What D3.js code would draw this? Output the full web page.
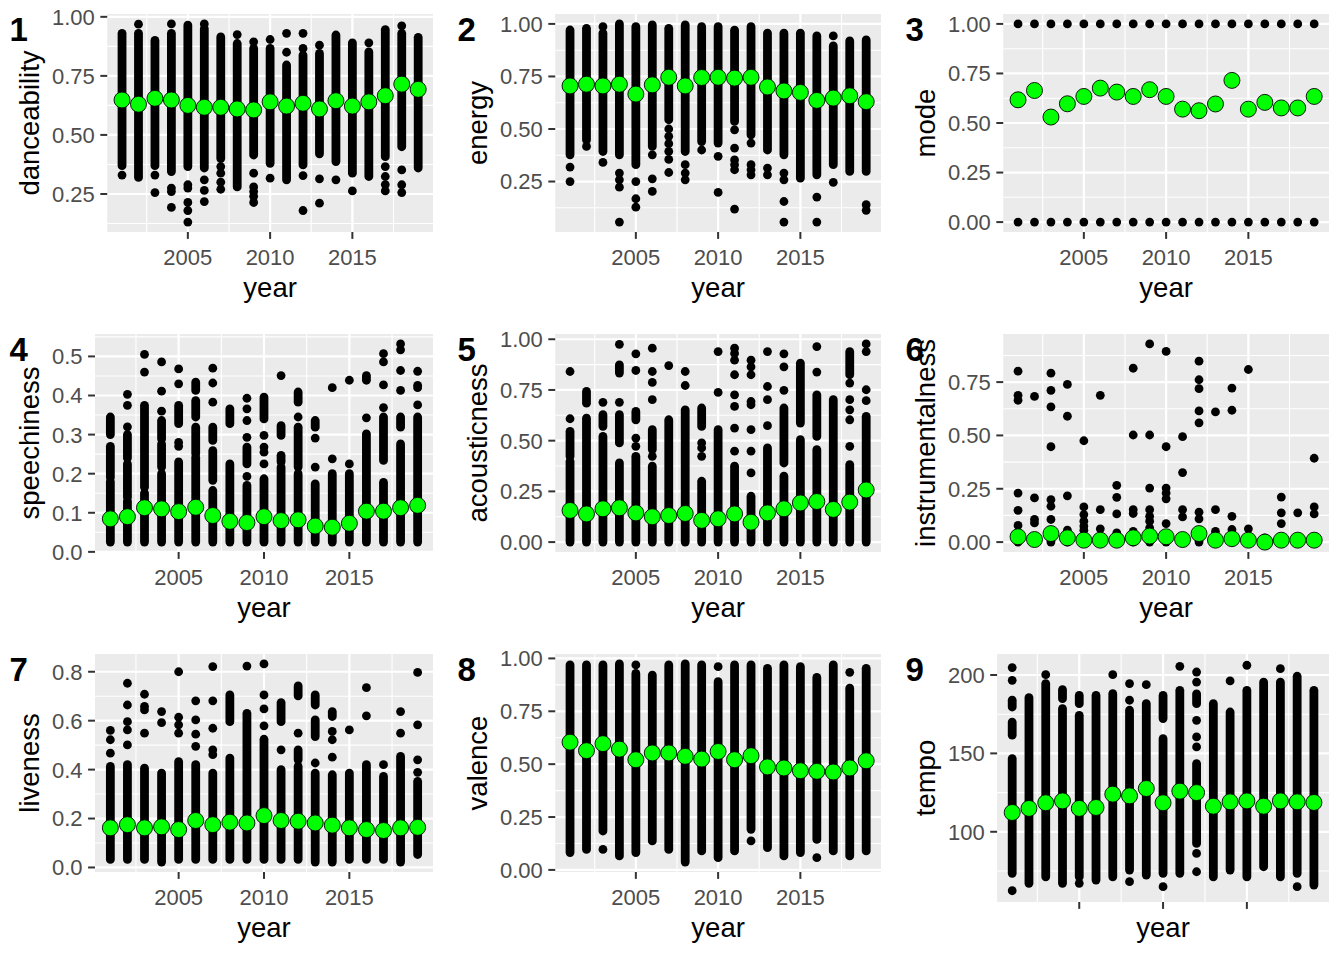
<!DOCTYPE html>
<html>
<head>
<meta charset="utf-8">
<script src="https://cdn.jsdelivr.net/npm/d3@7"></script>
<style>
  body { margin: 0; background: #fff; }
  text { font-family: "Liberation Sans", Arial, sans-serif; }
</style>
</head>
<body>
<script>
// Años (eje x)
const years = [2001, 2002, 2003, 2004, 2005, 2006, 2007, 2008, 2009, 2010,
               2011, 2012, 2013, 2014, 2015, 2016, 2017, 2018, 2019];
const yearBreaks = [2005, 2010, 2015];

// ---- 1 danceability ----
const danceMean = [0.648, 0.63, 0.655, 0.648, 0.625, 0.617, 0.617, 0.61, 0.606, 0.64,
                   0.622, 0.634, 0.61, 0.645, 0.622, 0.64, 0.666, 0.715, 0.693];
// tramos densos: [año, mínimo, máximo]
const danceRuns = [[2001, 0.37, 0.93], [2002, 0.32, 0.93], [2003, 0.37, 0.90], [2004, 0.345, 0.93],
  [2005, 0.366, 0.965], [2006, 0.36, 0.95], [2007, 0.40, 0.915], [2008, 0.28, 0.887],
  [2009, 0.415, 0.866], [2010, 0.38, 0.866], [2011, 0.31, 0.796], [2012, 0.373, 0.838],
  [2013, 0.42, 0.845], [2014, 0.387, 0.923], [2015, 0.338, 0.89], [2016, 0.324, 0.852],
  [2017, 0.408, 0.946], [2018, 0.45, 0.93], [2019, 0.36, 0.913]];
// puntos sueltos: [año, valor]
const dancePts = [[2001, 0.33], [2002, 0.969], [2003, 0.33], [2003, 0.256], [2004, 0.97], [2004, 0.275],
  [2004, 0.26], [2004, 0.193], [2005, 0.289], [2005, 0.275], [2005, 0.214], [2005, 0.18], [2005, 0.131],
  [2006, 0.97], [2006, 0.31], [2006, 0.265], [2006, 0.218], [2007, 0.366], [2007, 0.338], [2007, 0.30],
  [2007, 0.27], [2008, 0.925], [2009, 0.894], [2009, 0.338], [2009, 0.28], [2009, 0.26], [2009, 0.24],
  [2009, 0.214], [2010, 0.904], [2010, 0.317], [2011, 0.93], [2011, 0.85], [2012, 0.93], [2012, 0.866],
  [2012, 0.328], [2012, 0.18], [2013, 0.88], [2013, 0.314], [2013, 0.211], [2014, 0.31], [2015, 0.263],
  [2016, 0.89], [2017, 0.366], [2017, 0.324], [2017, 0.29], [2017, 0.263], [2018, 0.962], [2018, 0.352],
  [2018, 0.289], [2018, 0.256]];

// ---- 2 energy ----
const energyMean = [0.705, 0.713, 0.705, 0.713, 0.666, 0.71, 0.746, 0.705, 0.745, 0.746,
                    0.742, 0.746, 0.70, 0.681, 0.674, 0.636, 0.647, 0.658, 0.63];
const energyRuns = [[2001, 0.377, 0.971], [2002, 0.448, 0.979], [2003, 0.393, 0.956], [2004, 0.377, 1.0],
  [2005, 0.33, 0.987], [2006, 0.417, 0.995], [2007, 0.544, 0.979], [2008, 0.393, 0.995],
  [2009, 0.44, 0.987], [2010, 0.433, 0.987], [2011, 0.536, 0.97], [2012, 0.472, 0.987],
  [2013, 0.40, 0.956], [2014, 0.377, 0.956], [2015, 0.266, 0.956], [2016, 0.282, 0.943],
  [2017, 0.33, 0.895], [2018, 0.298, 0.919], [2019, 0.298, 0.924]];
const energyPts = [[2001, 0.319], [2001, 0.25], [2002, 0.417], [2003, 0.987], [2003, 0.341], [2004, 0.29],
  [2004, 0.258], [2004, 0.223], [2004, 0.057], [2005, 0.25], [2005, 0.168], [2005, 0.128], [2006, 0.377],
  [2006, 0.263], [2006, 0.203], [2007, 0.50], [2007, 0.465], [2007, 0.43], [2007, 0.393], [2007, 0.355],
  [2007, 0.293], [2008, 0.33], [2008, 0.29], [2008, 0.258], [2009, 0.40], [2010, 0.37], [2010, 0.198],
  [2011, 0.496], [2011, 0.409], [2011, 0.353], [2011, 0.33], [2011, 0.306], [2011, 0.119], [2012, 0.433],
  [2012, 0.33], [2012, 0.306], [2012, 0.282], [2013, 0.314], [2013, 0.282], [2014, 0.29], [2014, 0.258],
  [2014, 0.155], [2014, 0.057], [2016, 0.176], [2016, 0.057], [2017, 0.943], [2017, 0.246], [2019, 0.14],
  [2019, 0.113]];

// ---- 3 mode ----
const modeMean = [0.617, 0.664, 0.530, 0.597, 0.634, 0.676, 0.656, 0.634, 0.668, 0.634,
                  0.570, 0.562, 0.596, 0.715, 0.570, 0.604, 0.576, 0.576, 0.634];
const modeRuns = [];
const modePts = [[2001, 0], [2001, 1], [2002, 0], [2002, 1], [2003, 0], [2003, 1], [2004, 0], [2004, 1],
  [2005, 0], [2005, 1], [2006, 0], [2006, 1], [2007, 0], [2007, 1], [2008, 0], [2008, 1], [2009, 0],
  [2009, 1], [2010, 0], [2010, 1], [2011, 0], [2011, 1], [2012, 0], [2012, 1], [2013, 0], [2013, 1],
  [2014, 0], [2014, 1], [2015, 0], [2015, 1], [2016, 0], [2016, 1], [2017, 0], [2017, 1], [2018, 0],
  [2018, 1], [2019, 0], [2019, 1]];

// ---- 4 speechiness ----
const speechMean = [0.0845, 0.09, 0.113, 0.11, 0.103, 0.114, 0.093, 0.078, 0.075, 0.09,
                    0.08, 0.082, 0.066, 0.063, 0.073, 0.104, 0.104, 0.113, 0.119];
const speechRuns = [[2001, 0.025, 0.18], [2001, 0.19, 0.27], [2001, 0.30, 0.345],
  [2002, 0.025, 0.13], [2002, 0.14, 0.225], [2002, 0.24, 0.30],
  [2003, 0.025, 0.15], [2003, 0.165, 0.375],
  [2004, 0.025, 0.20], [2004, 0.217, 0.276], [2004, 0.289, 0.336],
  [2005, 0.025, 0.23], [2005, 0.328, 0.375],
  [2006, 0.025, 0.242], [2006, 0.251, 0.319], [2006, 0.345, 0.387], [2006, 0.413, 0.434],
  [2007, 0.025, 0.157], [2007, 0.183, 0.259], [2007, 0.285, 0.319],
  [2008, 0.025, 0.225], [2008, 0.328, 0.366],
  [2009, 0.025, 0.17], [2009, 0.225, 0.268],
  [2010, 0.025, 0.187], [2010, 0.34, 0.396],
  [2011, 0.025, 0.217], [2011, 0.23, 0.247], [2011, 0.298, 0.323],
  [2012, 0.025, 0.2], [2012, 0.217, 0.319], [2012, 0.383, 0.409],
  [2013, 0.025, 0.174], [2013, 0.319, 0.336],
  [2014, 0.025, 0.2], [2015, 0.025, 0.2],
  [2016, 0.025, 0.302], [2016, 0.439, 0.451],
  [2017, 0.025, 0.178], [2017, 0.234, 0.345],
  [2018, 0.025, 0.276], [2018, 0.319, 0.345],
  [2019, 0.025, 0.345]];
const speechPts = [[2002, 0.32], [2002, 0.375], [2002, 0.403], [2003, 0.505], [2003, 0.46], [2004, 0.486],
  [2004, 0.411], [2004, 0.36], [2005, 0.468], [2005, 0.43], [2005, 0.28], [2005, 0.27], [2007, 0.47],
  [2007, 0.432], [2007, 0.383], [2009, 0.393], [2009, 0.366], [2009, 0.336], [2009, 0.293], [2009, 0.193],
  [2010, 0.298], [2010, 0.268], [2010, 0.255], [2010, 0.225], [2011, 0.451], [2012, 0.345], [2013, 0.291],
  [2013, 0.217], [2014, 0.42], [2014, 0.238], [2015, 0.439], [2015, 0.225], [2016, 0.343], [2017, 0.507],
  [2017, 0.486], [2017, 0.427], [2017, 0.369], [2018, 0.532], [2018, 0.517], [2018, 0.464], [2018, 0.413],
  [2019, 0.462], [2019, 0.426], [2019, 0.42], [2019, 0.376]];

// ---- 5 acousticness ----
const acousMean = [0.156, 0.139, 0.164, 0.169, 0.144, 0.125, 0.131, 0.141, 0.107, 0.115,
                   0.139, 0.098, 0.144, 0.164, 0.193, 0.2, 0.161, 0.197, 0.257];
const acousRuns = [[2001, 0, 0.398], [2001, 0.423, 0.546], [2002, 0, 0.611], [2002, 0.685, 0.743],
  [2003, 0, 0.521], [2003, 0.57, 0.628], [2004, 0, 0.39], [2004, 0.489, 0.628], [2004, 0.833, 0.874],
  [2005, 0, 0.423], [2005, 0.603, 0.644], [2006, 0, 0.374], [2006, 0.456, 0.554], [2007, 0, 0.603],
  [2008, 0, 0.652], [2009, 0, 0.30], [2009, 0.57, 0.661], [2010, 0, 0.554], [2011, 0, 0.374],
  [2012, 0, 0.226], [2013, 0, 0.464], [2014, 0, 0.325], [2014, 0.39, 0.661], [2015, 0, 0.505],
  [2015, 0.587, 0.882], [2016, 0, 0.456], [2016, 0.521, 0.726], [2017, 0, 0.702], [2018, 0, 0.382],
  [2018, 0.825, 0.939], [2019, 0, 0.62]];
const acousPts = [[2001, 0.841], [2001, 0.608], [2003, 0.689], [2004, 0.975], [2004, 0.689], [2005, 0.928],
  [2005, 0.846], [2005, 0.513], [2005, 0.472], [2006, 0.956], [2006, 0.841], [2006, 0.787], [2006, 0.702],
  [2006, 0.423], [2007, 0.87], [2008, 0.841], [2008, 0.772], [2009, 0.489], [2009, 0.464], [2009, 0.423],
  [2010, 0.939], [2010, 0.738], [2011, 0.956], [2011, 0.93], [2011, 0.897], [2011, 0.825], [2011, 0.726],
  [2011, 0.669], [2011, 0.562], [2011, 0.448], [2012, 0.897], [2012, 0.864], [2012, 0.825], [2012, 0.693],
  [2012, 0.677], [2012, 0.554], [2012, 0.448], [2012, 0.341], [2013, 0.939], [2013, 0.767], [2013, 0.702],
  [2013, 0.574], [2014, 0.928], [2014, 0.864], [2014, 0.748], [2016, 0.964], [2016, 0.838], [2018, 0.784],
  [2018, 0.702], [2018, 0.652], [2018, 0.603], [2018, 0.472], [2019, 0.977], [2019, 0.939], [2019, 0.751],
  [2019, 0.697]];

// ---- 6 instrumentalness ----
const instrMean = [0.025, 0.012, 0.04, 0.02, 0.009, 0.009, 0.009, 0.02, 0.028, 0.025,
                   0.012, 0.04, 0.009, 0.016, 0.009, 0.0, 0.009, 0.009, 0.009];
const instrRuns = [[2001, 0, 0.02], [2002, 0, 0.02], [2003, 0, 0.02], [2004, 0, 0.02], [2005, 0, 0.02],
  [2006, 0, 0.02], [2007, 0, 0.02], [2008, 0, 0.02], [2009, 0, 0.02], [2010, 0, 0.02], [2011, 0, 0.02],
  [2012, 0, 0.02], [2013, 0, 0.02], [2014, 0, 0.02], [2015, 0, 0.02], [2016, 0, 0.02], [2017, 0, 0.02],
  [2018, 0, 0.02], [2019, 0, 0.02]];
const instrPts = [[2001, 0.801], [2001, 0.688], [2001, 0.665], [2001, 0.23], [2001, 0.149], [2001, 0.078],
  [2002, 0.683], [2002, 0.207], [2002, 0.106], [2002, 0.09], [2003, 0.792], [2003, 0.711], [2003, 0.634],
  [2003, 0.447], [2003, 0.199], [2003, 0.168], [2003, 0.106], [2004, 0.739], [2004, 0.59], [2004, 0.217],
  [2004, 0.056], [2005, 0.475], [2005, 0.165], [2005, 0.129], [2005, 0.098], [2005, 0.075], [2005, 0.056],
  [2006, 0.688], [2006, 0.152], [2006, 0.062], [2007, 0.266], [2007, 0.21], [2007, 0.132], [2007, 0.043],
  [2008, 0.815], [2008, 0.502], [2008, 0.152], [2008, 0.134], [2008, 0.05], [2009, 0.929], [2009, 0.502],
  [2009, 0.253], [2009, 0.152], [2009, 0.121], [2009, 0.098], [2009, 0.067], [2010, 0.894], [2010, 0.447],
  [2010, 0.253], [2010, 0.23], [2010, 0.203], [2010, 0.087], [2011, 0.494], [2011, 0.326], [2011, 0.152],
  [2011, 0.118], [2012, 0.848], [2012, 0.761], [2012, 0.719], [2012, 0.615], [2012, 0.559], [2012, 0.14],
  [2012, 0.109], [2013, 0.61], [2013, 0.152], [2013, 0.05], [2014, 0.722], [2014, 0.618], [2014, 0.121],
  [2014, 0.059], [2015, 0.809], [2015, 0.062], [2017, 0.211], [2017, 0.137], [2017, 0.087], [2018, 0.137],
  [2019, 0.393], [2019, 0.165], [2019, 0.132]];

// ---- 7 liveness ----
const liveMean = [0.162, 0.175, 0.162, 0.166, 0.155, 0.192, 0.175, 0.185, 0.182, 0.212,
                  0.192, 0.189, 0.182, 0.173, 0.162, 0.155, 0.151, 0.162, 0.164];
const liveRuns = [[2001, 0.033, 0.413], [2002, 0.033, 0.42], [2003, 0.033, 0.406], [2004, 0.022, 0.386],
  [2005, 0.033, 0.433], [2006, 0.033, 0.42], [2007, 0.033, 0.386], [2008, 0.033, 0.447], [2008, 0.596, 0.705],
  [2009, 0.033, 0.63], [2010, 0.033, 0.524], [2011, 0.033, 0.40], [2011, 0.596, 0.674], [2012, 0.033, 0.413],
  [2012, 0.44, 0.481], [2012, 0.701, 0.742], [2013, 0.022, 0.386], [2013, 0.535, 0.603], [2013, 0.664, 0.705],
  [2014, 0.022, 0.379], [2014, 0.617, 0.637], [2015, 0.033, 0.386], [2016, 0.033, 0.42], [2017, 0.033, 0.372],
  [2018, 0.022, 0.454], [2019, 0.053, 0.352]];
const livePts = [[2001, 0.56], [2001, 0.522], [2001, 0.467], [2002, 0.753], [2002, 0.664], [2002, 0.596],
  [2002, 0.562], [2002, 0.501], [2003, 0.708], [2003, 0.658], [2003, 0.644], [2003, 0.549], [2004, 0.637],
  [2004, 0.592], [2005, 0.8], [2005, 0.614], [2005, 0.583], [2005, 0.549], [2006, 0.681], [2006, 0.603],
  [2006, 0.545], [2006, 0.495], [2007, 0.821], [2007, 0.681], [2007, 0.569], [2007, 0.481], [2007, 0.461],
  [2009, 0.823], [2010, 0.832], [2010, 0.705], [2010, 0.648], [2010, 0.579], [2011, 0.481], [2012, 0.549],
  [2013, 0.427], [2014, 0.556], [2014, 0.522], [2014, 0.451], [2015, 0.562], [2016, 0.735], [2016, 0.62],
  [2017, 0.42], [2018, 0.637], [2018, 0.549], [2019, 0.797], [2019, 0.583], [2019, 0.44], [2019, 0.389]];

// ---- 8 valence ----
const valMean = [0.604, 0.564, 0.597, 0.571, 0.521, 0.553, 0.553, 0.537, 0.524, 0.56,
                 0.521, 0.54, 0.487, 0.482, 0.469, 0.466, 0.463, 0.482, 0.516];
const valRuns = [[2001, 0.082, 0.969], [2002, 0.097, 0.969], [2003, 0.184, 0.969], [2004, 0.066, 0.974],
  [2005, 0.082, 0.929], [2006, 0.137, 0.921], [2007, 0.097, 0.969], [2008, 0.037, 0.974], [2009, 0.09, 0.969],
  [2010, 0.058, 0.89], [2011, 0.09, 0.969], [2012, 0.192, 0.969], [2013, 0.105, 0.953], [2014, 0.066, 0.969],
  [2015, 0.082, 0.961], [2016, 0.144, 0.91], [2017, 0.09, 0.969], [2018, 0.066, 0.859], [2019, 0.09, 0.953]];
const valPts = [[2003, 0.097], [2005, 0.969], [2010, 0.961], [2012, 0.137], [2016, 0.058], [2018, 0.934]];

// ---- 9 tempo ----
const tempoMean = [112.3, 114.9, 118.5, 119.7, 114.9, 115.5, 124, 122.9, 127.6, 118.5,
                   125.9, 125, 116.3, 119.1, 119.7, 116.3, 119.7, 119.1, 118.7];
const tempoRuns = [[2001, 73.5, 146.7], [2001, 161.6, 170], [2001, 179.6, 183.9], [2002, 67.1, 185.6],
  [2003, 71.3, 194.5], [2004, 67.1, 178.6], [2004, 184.9, 190.7], [2005, 71.3, 174.3], [2005, 181.7, 187],
  [2006, 69.2, 187], [2007, 71.3, 188.1], [2008, 75.6, 177.5], [2009, 72.4, 181.7], [2010, 73.5, 159.4],
  [2010, 172.2, 187], [2011, 73.5, 190.2], [2012, 92.6, 143.5], [2012, 181.7, 188], [2013, 71.3, 181.7],
  [2014, 75.6, 176.4], [2015, 71.3, 190.2], [2016, 77.7, 195.5], [2017, 71.3, 195.5], [2018, 73.5, 199.2],
  [2019, 66, 190.2]];
const tempoPts = [[2001, 204.7], [2001, 196.6], [2001, 62.4], [2003, 200.2], [2005, 67.1], [2007, 200.2],
  [2008, 194.5], [2008, 183.9], [2008, 68.2], [2009, 193.8], [2010, 65], [2011, 205.5], [2012, 201.9],
  [2012, 195.5], [2012, 171.1], [2012, 160.5], [2012, 154.1], [2012, 86.2], [2012, 74.5], [2014, 196.2],
  [2015, 206.2], [2017, 204], [2018, 65]];

const f2 = d3.format(".2f"), f1 = d3.format(".1f"), f0 = d3.format("d");
const panels = [
  { label: "1", name: "danceability", mean: danceMean, runs: danceRuns, pts: dancePts, breaks: [0.25, 0.5, 0.75, 1], fmt: f2, xLab: true },
  { label: "2", name: "energy", mean: energyMean, runs: energyRuns, pts: energyPts, breaks: [0.25, 0.5, 0.75, 1], fmt: f2, xLab: true },
  { label: "3", name: "mode", mean: modeMean, runs: modeRuns, pts: modePts, breaks: [0, 0.25, 0.5, 0.75, 1], fmt: f2, xLab: true },
  { label: "4", name: "speechiness", mean: speechMean, runs: speechRuns, pts: speechPts, breaks: [0, 0.1, 0.2, 0.3, 0.4, 0.5], fmt: f1, xLab: true },
  { label: "5", name: "acousticness", mean: acousMean, runs: acousRuns, pts: acousPts, breaks: [0, 0.25, 0.5, 0.75, 1], fmt: f2, xLab: true },
  { label: "6", name: "instrumentalness", mean: instrMean, runs: instrRuns, pts: instrPts, breaks: [0, 0.25, 0.5, 0.75], fmt: f2, xLab: true },
  { label: "7", name: "liveness", mean: liveMean, runs: liveRuns, pts: livePts, breaks: [0, 0.2, 0.4, 0.6, 0.8], fmt: f1, xLab: true },
  { label: "8", name: "valence", mean: valMean, runs: valRuns, pts: valPts, breaks: [0, 0.25, 0.5, 0.75, 1], fmt: f2, xLab: true },
  { label: "9", name: "tempo", mean: tempoMean, runs: tempoRuns, pts: tempoPts, breaks: [100, 150, 200], fmt: f0, xLab: false }
];

const W = 1344, H = 960, cellW = 448, cellH = 320;
const tickSize = 22, titleSize = 27.5;
const dotR = 4.4, meanR = 8;

const svg = d3.select("body").append("svg").attr("width", W).attr("height", H);
svg.append("rect").attr("width", W).attr("height", H).attr("fill", "#fff");

// mide el ancho de las etiquetas del eje y
const medidor = svg.append("text").attr("font-size", tickSize);
function anchoTexto(s) { medidor.text(s); return medidor.node().getComputedTextLength(); }

// expansión del 5% como ggplot
function expandir([a, b]) { const d = (b - a) * 0.05; return [a - d, b + d]; }
// cortes menores entre los mayores
function menores(br, dom) {
  const s = br[1] - br[0];
  const out = [br[0] - s / 2];
  br.forEach(b => out.push(b + s / 2));
  return out.filter(v => v >= dom[0] && v <= dom[1]);
}

panels.forEach((p, i) => {
  const ox = (i % 3) * cellW, oy = Math.floor(i / 3) * cellH;
  const g = svg.append("g").attr("transform", `translate(${ox},${oy})`);

  const labW = d3.max(p.breaks, b => anchoTexto(p.fmt(b)));
  const left = 13.75 + 31.35 + 6.9 + labW + 12.4;
  const right = 433, top = 14, bottom = p.xLab ? 232 : 262;

  const x = d3.scaleLinear().domain(expandir(d3.extent(years))).range([left, right]);
  const vals = p.mean.concat(p.runs.flatMap(r => [r[1], r[2]]), p.pts.map(d => d[1]));
  const yDom = expandir(d3.extent(vals));
  const y = d3.scaleLinear().domain(yDom).range([bottom, top]);

  // fondo del panel
  g.append("rect").attr("x", left).attr("y", top)
    .attr("width", right - left).attr("height", bottom - top).attr("fill", "#EBEBEB");

  // rejilla menor
  menores(p.breaks, yDom).forEach(v => {
    g.append("line").attr("x1", left).attr("x2", right).attr("y1", y(v)).attr("y2", y(v))
      .attr("stroke", "#fff").attr("stroke-width", 1.1);
  });
  menores(yearBreaks, x.domain()).forEach(v => {
    g.append("line").attr("y1", top).attr("y2", bottom).attr("x1", x(v)).attr("x2", x(v))
      .attr("stroke", "#fff").attr("stroke-width", 1.1);
  });
  // rejilla mayor
  p.breaks.forEach(v => {
    g.append("line").attr("x1", left).attr("x2", right).attr("y1", y(v)).attr("y2", y(v))
      .attr("stroke", "#fff").attr("stroke-width", 2.2);
  });
  yearBreaks.forEach(v => {
    g.append("line").attr("y1", top).attr("y2", bottom).attr("x1", x(v)).attr("x2", x(v))
      .attr("stroke", "#fff").attr("stroke-width", 2.2);
  });

  // tramos densos de puntos negros
  g.selectAll("rect.run").data(p.runs).enter().append("rect").attr("class", "run")
    .attr("x", d => x(d[0]) - dotR)
    .attr("y", d => y(d[2]) - dotR)
    .attr("width", 2 * dotR)
    .attr("height", d => y(d[1]) - y(d[2]) + 2 * dotR)
    .attr("rx", dotR).attr("ry", dotR)
    .attr("fill", "#000");

  // puntos sueltos
  g.selectAll("circle.pt").data(p.pts).enter().append("circle").attr("class", "pt")
    .attr("cx", d => x(d[0])).attr("cy", d => y(d[1])).attr("r", dotR).attr("fill", "#000");

  // medias en verde
  g.selectAll("circle.mean").data(p.mean).enter().append("circle").attr("class", "mean")
    .attr("cx", (d, j) => x(years[j])).attr("cy", d => y(d)).attr("r", meanR)
    .attr("fill", "#00FF00").attr("stroke", "#000").attr("stroke-width", 0.9);

  // marcas y etiquetas del eje y
  p.breaks.forEach(v => {
    g.append("line").attr("x1", left - 6.9).attr("x2", left).attr("y1", y(v)).attr("y2", y(v))
      .attr("stroke", "#333").attr("stroke-width", 2);
    g.append("text").attr("x", left - 12.4).attr("y", y(v) + tickSize * 0.36)
      .attr("text-anchor", "end").attr("font-size", tickSize).attr("fill", "#4D4D4D")
      .text(p.fmt(v));
  });
  // marcas y etiquetas del eje x
  yearBreaks.forEach(v => {
    g.append("line").attr("y1", bottom).attr("y2", bottom + 6.9).attr("x1", x(v)).attr("x2", x(v))
      .attr("stroke", "#333").attr("stroke-width", 2);
    if (p.xLab) {
      g.append("text").attr("x", x(v)).attr("y", bottom + 33)
        .attr("text-anchor", "middle").attr("font-size", tickSize).attr("fill", "#4D4D4D")
        .text(v);
    }
  });

  // títulos de ejes
  g.append("text").attr("x", (left + right) / 2).attr("y", 297)
    .attr("text-anchor", "middle").attr("font-size", titleSize).attr("fill", "#000").text("year");
  g.append("text").attr("transform", `translate(38.5,${(top + bottom) / 2}) rotate(-90)`)
    .attr("text-anchor", "middle").attr("font-size", titleSize).attr("fill", "#000").text(p.name);

  // etiqueta del panel
  g.append("text").attr("x", 9.5).attr("y", 40.5)
    .attr("font-size", 33).attr("font-weight", "bold").attr("fill", "#000").text(p.label);
});

medidor.remove();
</script>
</body>
</html>
